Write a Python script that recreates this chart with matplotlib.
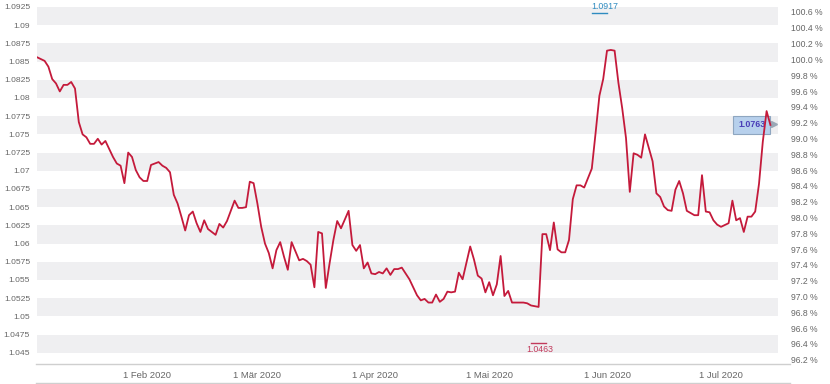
import matplotlib
matplotlib.use("Agg")
import matplotlib.pyplot as plt
from matplotlib.lines import Line2D
from matplotlib.transforms import offset_copy
import pandas as pd

plt.rcParams['font.family'] = ['Liberation Sans', 'DejaVu Sans']

# ---------------- data ----------------
dates = [
    "2020-01-03", "2020-01-05", "2020-01-06", "2020-01-07", "2020-01-08", "2020-01-09",
    "2020-01-10", "2020-01-11", "2020-01-12", "2020-01-13", "2020-01-14", "2020-01-15",
    "2020-01-16", "2020-01-17", "2020-01-18", "2020-01-19", "2020-01-20", "2020-01-21",
    "2020-01-23", "2020-01-24", "2020-01-25", "2020-01-26", "2020-01-27", "2020-01-28",
    "2020-01-29", "2020-01-30", "2020-01-31", "2020-02-01", "2020-02-02", "2020-02-04",
    "2020-02-05", "2020-02-06", "2020-02-07", "2020-02-08", "2020-02-09", "2020-02-10",
    "2020-02-11", "2020-02-12", "2020-02-13", "2020-02-14", "2020-02-15", "2020-02-16",
    "2020-02-17", "2020-02-18", "2020-02-19", "2020-02-20", "2020-02-21", "2020-02-22",
    "2020-02-24", "2020-02-25", "2020-02-26", "2020-02-27", "2020-02-28", "2020-02-29",
    "2020-03-01", "2020-03-02", "2020-03-03", "2020-03-04", "2020-03-05", "2020-03-06",
    "2020-03-07", "2020-03-08", "2020-03-09", "2020-03-10", "2020-03-12", "2020-03-13",
    "2020-03-14", "2020-03-15", "2020-03-16", "2020-03-17", "2020-03-18", "2020-03-19",
    "2020-03-20", "2020-03-21", "2020-03-22", "2020-03-23", "2020-03-25", "2020-03-26",
    "2020-03-27", "2020-03-28", "2020-03-29", "2020-03-30", "2020-03-31", "2020-04-01",
    "2020-04-02", "2020-04-03", "2020-04-04", "2020-04-05", "2020-04-06", "2020-04-07",
    "2020-04-08", "2020-04-09", "2020-04-10", "2020-04-12", "2020-04-13", "2020-04-14",
    "2020-04-15", "2020-04-16", "2020-04-17", "2020-04-18", "2020-04-19", "2020-04-20",
    "2020-04-21", "2020-04-22", "2020-04-23", "2020-04-24", "2020-04-26", "2020-04-27",
    "2020-04-28", "2020-04-29", "2020-04-30", "2020-05-01", "2020-05-02", "2020-05-03",
    "2020-05-04", "2020-05-05", "2020-05-06", "2020-05-07", "2020-05-08", "2020-05-09",
    "2020-05-10", "2020-05-11", "2020-05-12", "2020-05-14", "2020-05-15", "2020-05-16",
    "2020-05-17", "2020-05-18", "2020-05-19", "2020-05-20", "2020-05-21", "2020-05-22",
    "2020-05-23", "2020-05-24", "2020-05-25", "2020-05-26", "2020-05-28", "2020-05-29",
    "2020-05-30", "2020-05-31", "2020-06-01", "2020-06-02", "2020-06-03", "2020-06-04",
    "2020-06-05", "2020-06-06", "2020-06-07", "2020-06-08", "2020-06-09", "2020-06-10",
    "2020-06-11", "2020-06-13", "2020-06-14", "2020-06-15", "2020-06-16", "2020-06-17",
    "2020-06-18", "2020-06-19", "2020-06-20", "2020-06-21", "2020-06-22", "2020-06-23",
    "2020-06-24", "2020-06-25", "2020-06-26", "2020-06-27", "2020-06-28", "2020-06-29",
    "2020-06-30", "2020-07-01", "2020-07-03", "2020-07-04", "2020-07-05", "2020-07-06",
    "2020-07-07", "2020-07-08", "2020-07-09", "2020-07-10", "2020-07-11", "2020-07-12",
    "2020-07-13", "2020-07-14",
]
values = [
    1.0856, 1.0851, 1.0843, 1.0826, 1.0820, 1.0809,
    1.0818, 1.0818, 1.0822, 1.0813, 1.0767, 1.0750,
    1.0746, 1.0737, 1.0737, 1.0744, 1.0736, 1.0741,
    1.0719, 1.0710, 1.0707, 1.0683, 1.0725, 1.0719,
    1.0701, 1.0691, 1.0686, 1.0686, 1.0708, 1.0712,
    1.0707, 1.0704, 1.0698, 1.0667, 1.0655, 1.0637,
    1.0618, 1.0639, 1.0644, 1.0628, 1.0616, 1.0632,
    1.0620, 1.0616, 1.0612, 1.0627, 1.0622, 1.0631,
    1.0659, 1.0649, 1.0649, 1.0650, 1.0685, 1.0683,
    1.0655, 1.0623, 1.0600, 1.0587, 1.0566, 1.0591,
    1.0602, 1.0582, 1.0564, 1.0602, 1.0577, 1.0579,
    1.0576, 1.0571, 1.0540, 1.0616, 1.0614, 1.0539,
    1.0573, 1.0605, 1.0631, 1.0621, 1.0645, 1.0598,
    1.0590, 1.0598, 1.0566, 1.0574, 1.0559, 1.0558,
    1.0561, 1.0559, 1.0566, 1.0557, 1.0565, 1.0565,
    1.0567, 1.0559, 1.0551, 1.0529, 1.0522, 1.0524,
    1.0519, 1.0519, 1.0530, 1.0520, 1.0524, 1.0534,
    1.0533, 1.0534, 1.0560, 1.0551, 1.0596, 1.0578,
    1.0556, 1.0552, 1.0533, 1.0547, 1.0529, 1.0544,
    1.0583, 1.0528, 1.0535, 1.0519, 1.0519, 1.0519,
    1.0519, 1.0518, 1.0515, 1.0513, 1.0613, 1.0613,
    1.0591, 1.0629, 1.0592, 1.0588, 1.0588, 1.0605,
    1.0661, 1.0680, 1.0680, 1.0677, 1.0703, 1.0752,
    1.0803, 1.0826, 1.0865, 1.0866, 1.0865, 1.0821,
    1.0786, 1.0745, 1.0671, 1.0724, 1.0722, 1.0718,
    1.0750, 1.0713, 1.0669, 1.0664, 1.0651, 1.0646,
    1.0645, 1.0674, 1.0686, 1.0669, 1.0645, 1.0642,
    1.0639, 1.0639, 1.0694, 1.0644, 1.0643, 1.0632,
    1.0626, 1.0623, 1.0628, 1.0659, 1.0632, 1.0635,
    1.0616, 1.0637, 1.0637, 1.0644, 1.0682, 1.0740,
    1.0782, 1.0763,
]

left_ticks = [1.045, 1.0475, 1.05, 1.0525, 1.055, 1.0575, 1.06, 1.0625, 1.065, 1.0675,
              1.07, 1.0725, 1.075, 1.0775, 1.08, 1.0825, 1.085, 1.0875, 1.09, 1.0925]
left_labels = ["1.045", "1.0475", "1.05", "1.0525", "1.055", "1.0575", "1.06", "1.0625",
               "1.065", "1.0675", "1.07", "1.0725", "1.075", "1.0775", "1.08", "1.0825",
               "1.085", "1.0875", "1.09", "1.0925"]
right_ticks = [96.2, 96.4, 96.6, 96.8, 97.0, 97.2, 97.4, 97.6, 97.8, 98.0, 98.2, 98.4,
               98.6, 98.8, 99.0, 99.2, 99.4, 99.6, 99.8, 100.0, 100.2, 100.4, 100.6]
x_tick_dates = ["2020-02-01", "2020-03-01", "2020-04-01", "2020-05-01", "2020-06-01", "2020-07-01"]
x_tick_labels = ["1 Feb 2020", "1 Mär 2020", "1 Apr 2020", "1 Mai 2020", "1 Jun 2020", "1 Jul 2020"]

base_value = 1.0853
high_value, high_date, high_label = 1.0917, "2020-05-30", "1.0917"
low_value, low_date, low_label = 1.0463, "2020-05-14", "1.0463"
last_label = "1.0763"

x_range = ["2020-01-03", "2020-07-16"]
y_range = [1.04346, 1.09346]

# ---------------- figure ----------------
W, H = 830, 384
fig = plt.figure(figsize=(W / 100, H / 100), dpi=100)
ax = fig.add_axes([37 / W, 20 / H, 741 / W, 364 / H])

d = pd.to_datetime(dates)
ax.set_xlim(pd.to_datetime(x_range[0]), pd.to_datetime(x_range[1]))
ax.set_ylim(*y_range)

band_color = "#efeff1"
for i in range(0, len(left_ticks) - 1, 2):
    ax.axhspan(left_ticks[i], left_ticks[i + 1], color=band_color, lw=0, zorder=0)

line_color = "#c41a3b"
ax.plot(d, values, color=line_color, lw=1.3, zorder=5, solid_joinstyle="round")

text_gray = "#666666"
ax.set_yticks(left_ticks)
ax.set_yticklabels(left_labels)
ax.tick_params(axis="y", length=0, pad=5, labelsize=6.1, labelcolor=text_gray)
ax.set_xticks(pd.to_datetime(x_tick_dates))
ax.set_xticklabels(x_tick_labels)
ax.tick_params(axis="x", length=0, pad=5, labelsize=6.8, labelcolor=text_gray)
for s in ax.spines.values():
    s.set_visible(False)

ax2 = ax.twinx()
ax2.set_ylim(y_range[0] / base_value * 100, y_range[1] / base_value * 100)
ax2.set_yticks(right_ticks)
ax2.set_yticklabels([f"{v:.1f} %" for v in right_ticks])
ax2.tick_params(axis="y", length=0, pad=9, labelsize=6.2, labelcolor=text_gray)
for s in ax2.spines.values():
    s.set_visible(False)

# frame lines
fig.add_artist(Line2D([36 / W, 790 / W], [1 - 364 / H, 1 - 364 / H], color="#cfcfcf", lw=1))
fig.add_artist(Line2D([36 / W, 790 / W], [1 - 383 / H, 1 - 383 / H], color="#cfcfcf", lw=1))

# high / low markers
hd = pd.to_datetime(high_date)
ld = pd.to_datetime(low_date)
blue = "#2e8bc0"
pink = "#c23a5c"
ax.plot([hd - pd.Timedelta(days=2), hd + pd.Timedelta(days=2)], [high_value, high_value],
        color=blue, lw=1, zorder=6)
ax.annotate(high_label, xy=(hd, high_value), xytext=(4, 1), textcoords="offset points",
            ha="center", va="bottom", fontsize=6.3, color=blue, zorder=6)
ax.plot([ld - pd.Timedelta(days=2), ld + pd.Timedelta(days=2)], [low_value, low_value],
        color=pink, lw=1, zorder=6)
ax.annotate(low_label, xy=(ld, low_value), xytext=(1, -1.5), textcoords="offset points",
            ha="center", va="top", fontsize=6.3, color=pink, zorder=6)

# last value box
last_d = d[-1]
last_v = values[-1]
ax.annotate(last_label, xy=(last_d, last_v), xytext=(-3.5, 0), textcoords="offset points",
            ha="right", va="center", fontsize=6.4, fontweight="bold", color="#4a3fb8",
            bbox=dict(boxstyle="square,pad=0.55", fc="#b7d0ec", ec="#8ea6c0", lw=0.8),
            zorder=4)
tri_trans = offset_copy(ax.transData, fig=fig, x=4, y=1, units="dots")
ax.plot([last_d], [last_v], marker=">", markersize=4.5, color="#9aa8b6",
        transform=tri_trans, zorder=4, clip_on=False, linestyle="none")

fig.savefig("out.png", dpi=100)
